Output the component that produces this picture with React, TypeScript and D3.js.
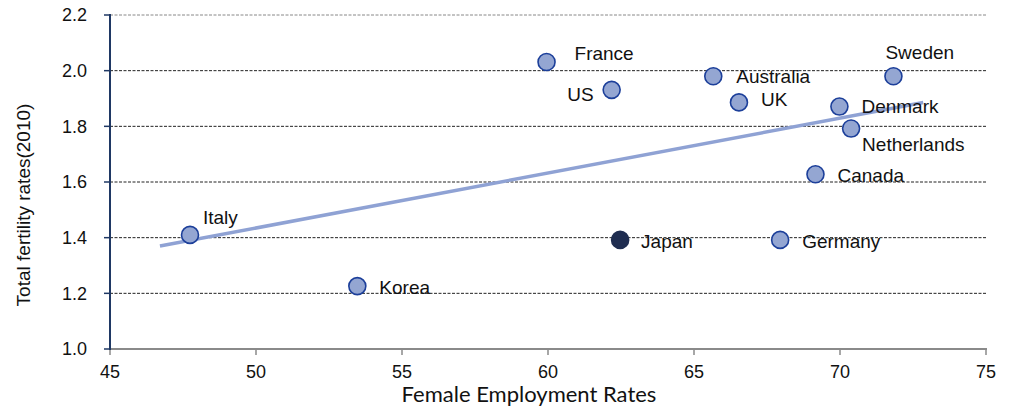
import React from "react";
import * as d3 from "d3";

const countries = ["Italy", "Korea", "France", "US", "Japan", "Australia", "UK", "Sweden", "Denmark", "Netherlands", "Canada", "Germany"];
const employment = [47.74, 53.47, 59.95, 62.18, 62.47, 65.66, 66.54, 71.83, 69.98, 70.38, 69.16, 67.95];
const fertility = [1.41, 1.226, 2.031, 1.931, 1.392, 1.98, 1.886, 1.98, 1.871, 1.792, 1.628, 1.392];
const highlighted = ["Japan"];
const xTicks = [45, 50, 55, 60, 65, 70, 75];
const yTicks = [1.0, 1.2, 1.4, 1.6, 1.8, 2.0, 2.2];
const trendRange = [46.71, 72.85];

// label offsets relative to point (px)
const labelOffsets: Record<string, [number, number, string]> = {
  Italy: [13, -18, "start"],
  Korea: [22, 1, "start"],
  France: [28, -9, "start"],
  US: [-18, 4, "end"],
  Japan: [21, 1, "start"],
  Australia: [23, 0, "start"],
  UK: [22, -3, "start"],
  Sweden: [-8, -24, "start"],
  Denmark: [22, 0, "start"],
  Netherlands: [11, 16, "start"],
  Canada: [22, 1, "start"],
  Germany: [22, 1, "start"],
};

export default function App() {
  const W = 1012, H = 413;
  const x = d3.scaleLinear().domain([45, 75]).range([110, 986]);
  const y = d3.scaleLinear().domain([1.0, 2.2]).range([349, 15]);

  const mx = d3.mean(employment)!;
  const my = d3.mean(fertility)!;
  let num = 0, den = 0;
  employment.forEach((v, i) => {
    num += (v - mx) * (fertility[i] - my);
    den += (v - mx) * (v - mx);
  });
  const slope = num / den;
  const intercept = my - slope * mx;
  const trend = trendRange.map((v) => [x(v), y(intercept + slope * v)] as [number, number]);
  const line = d3.line();

  return (
    <svg width={W} height={H} style={{ position: "absolute", left: 0, top: 0, background: "#fff" }}>
      {yTicks.map((t, i) => (
        <g key={"y" + t}>
          {i > 0 && (
            <line x1={110} x2={986} y1={y(t)} y2={y(t)} stroke={i === yTicks.length - 1 ? "#888" : "#222"} strokeWidth={1} strokeDasharray="3,1.5" />
          )}
          <line x1={104} x2={110} y1={y(t)} y2={y(t)} stroke="#1f3864" strokeWidth={1.5} />
          <text x={87} y={y(t)} dy="0.36em" textAnchor="end" fontFamily="'Liberation Sans', Arial, sans-serif" fontSize={18} fill="#111">
            {t.toFixed(1)}
          </text>
        </g>
      ))}
      <line x1={110} x2={987} y1={349} y2={349} stroke="#8a8a8a" strokeWidth={2} />
      {xTicks.map((t) => (
        <g key={"x" + t}>
          <line x1={x(t)} x2={x(t)} y1={349} y2={355} stroke="#8a8a8a" strokeWidth={1.5} />
          <text x={x(t)} y={378} textAnchor="middle" fontFamily="'Liberation Sans', Arial, sans-serif" fontSize={18} fill="#111">
            {t}
          </text>
        </g>
      ))}
      <line x1={110} x2={110} y1={14} y2={350} stroke="#1f3864" strokeWidth={2} />
      <path d={line(trend)!} stroke="#8fa2d4" strokeWidth={3.5} fill="none" />
      {countries.map((c, i) => {
        const px = x(employment[i]);
        const py = y(fertility[i]);
        const hl = highlighted.includes(c);
        const [ox, oy, anchor] = labelOffsets[c];
        return (
          <g key={c}>
            <circle cx={px} cy={py} r={8.5} fill={hl ? "#1f2d50" : "#94a6d2"} stroke={hl ? "#1f2d50" : "#1c3f9a"} strokeWidth={1.6} />
            <text x={px + ox} y={py + oy} dy="0.36em" textAnchor={anchor as any} fontFamily="'Liberation Sans', Arial, sans-serif" fontSize={19} fill="#111">
              {c}
            </text>
          </g>
        );
      })}
      <text x={529} y={402} textAnchor="middle" fontFamily="Lato, 'Open Sans', sans-serif" fontSize={22} fill="#111">
        Female Employment Rates
      </text>
      <text transform={`translate(30,205) rotate(-90)`} textAnchor="middle" fontFamily="'Liberation Sans', Arial, sans-serif" fontSize={19} fill="#111">
        Total fertility rates(2010)
      </text>
    </svg>
  );
}
